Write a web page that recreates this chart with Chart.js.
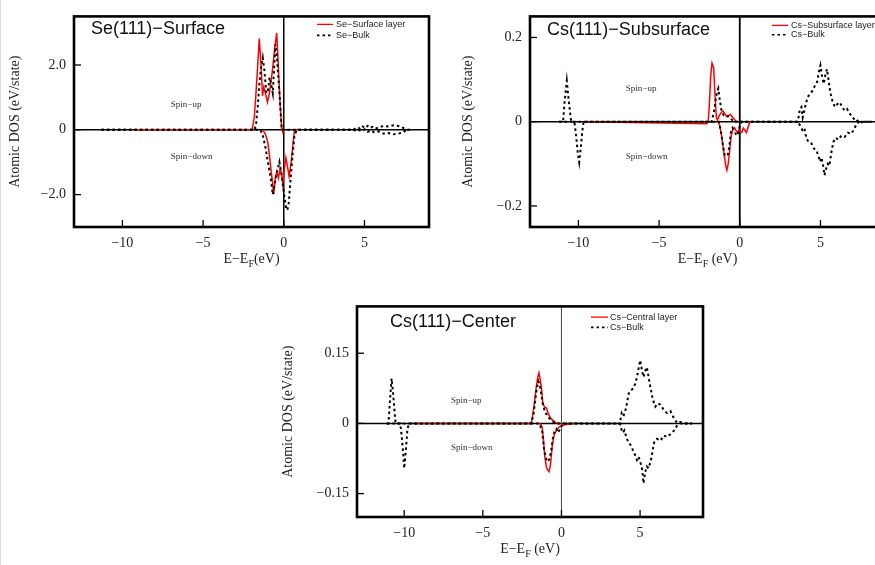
<!DOCTYPE html>
<html><head><meta charset="utf-8">
<script src="https://cdn.jsdelivr.net/npm/chart.js@4.4.1/dist/chart.umd.min.js"></script>
<style>
html,body{margin:0;padding:0;background:#fff;overflow:hidden;width:875px;height:565px;position:relative}
canvas{position:absolute}
#edge{position:absolute;left:0;top:0;width:1px;height:565px;background:#dcdcdc}
</style></head><body>
<div id="edge"></div>
<canvas id="c1" width="440" height="280" style="left:0;top:0"></canvas>
<canvas id="c2" width="460" height="280" style="left:440px;top:0"></canvas>
<canvas id="c3" width="440" height="275" style="left:270px;top:290px"></canvas>
<script>
// ---------- tick labels ----------
const xTickValues = [-10, -5, 0, 5];
const xTickLabels = ['\u221210', '\u22125', '0', '5'];
const p1YTickValues = [-2, 0, 2];
const p1YTickLabels = ['\u22122.0', '0', '2.0'];
const p2YTickValues = [-0.2, 0, 0.2];
const p2YTickLabels = ['\u22120.2', '0', '0.2'];
const p3YTickValues = [-0.15, 0, 0.15];
const p3YTickLabels = ['\u22120.15', '0', '0.15'];

// ---------- Panel 1: Se(111)-Surface  [E-EF (eV), DOS] ----------
const p1SurfUp = [[-9.2,0],[-1.96,0],[-1.82,0.42],[-1.71,1.23],[-1.61,2.03],[-1.52,2.82],[-1.4,1.93],[-1.32,1.05],[-1.24,1.32],[-1.14,1.13],[-1.01,0.85],[-0.89,1.13],[-0.78,1.53],[-0.68,1.93],[-0.58,2.44],[-0.44,2.99],[-0.37,2.34],[-0.31,1.63],[-0.22,0.72],[-0.12,0.02],[-0.06,-0.08],[0.0,0]];
const p1SurfDown = [[-1.3,0],[-1.14,-0.13],[-0.99,-0.38],[-0.89,-0.79],[-0.78,-1.29],[-0.68,-1.69],[-0.62,-1.99],[-0.52,-1.49],[-0.43,-1.29],[-0.33,-1.49],[-0.22,-1.19],[-0.14,-1.35],[-0.06,-1.69],[0.04,-1.19],[0.13,-0.86],[0.22,-1.1],[0.33,-1.44],[0.46,-0.99],[0.56,-0.48],[0.66,-0.03],[0.88,0.02]];
const p1BulkUp = [[-11.3,0],[-1.8,0],[-1.71,0.22],[-1.61,0.73],[-1.51,1.43],[-1.4,1.93],[-1.3,2.22],[-1.2,1.83],[-1.08,1.13],[-0.98,1.2],[-0.88,1.62],[-0.78,1.4],[-0.68,1.13],[-0.6,1.9],[-0.52,2.64],[-0.42,2.2],[-0.31,1.43],[-0.2,0.6],[-0.13,0],[4.3,0],[4.4,0.03],[4.6,0.08],[4.75,0.02],[4.9,0.1],[5.05,0.05],[5.2,0.12],[5.35,0.06],[5.5,0.09],[5.65,0.03],[5.9,0.08],[6.2,0.12],[6.5,0.1],[6.8,0.14],[7.1,0.12],[7.4,0.06],[7.6,0],[7.8,0]];
const p1BulkDown = [[-11.3,0],[-1.45,0],[-1.3,-0.18],[-1.15,-0.5],[-0.99,-0.98],[-0.88,-1.3],[-0.78,-1.59],[-0.68,-2.0],[-0.58,-1.7],[-0.47,-1.39],[-0.37,-1.2],[-0.27,-0.99],[-0.16,-1.3],[-0.06,-1.69],[0.05,-2.1],[0.15,-2.42],[0.22,-2.48],[0.31,-2.25],[0.46,-1.29],[0.56,-0.7],[0.66,-0.18],[0.8,0],[4.3,0],[4.4,-0.02],[4.6,0.02],[4.8,-0.05],[5.0,0.02],[5.2,-0.06],[5.4,-0.02],[5.6,-0.08],[5.9,-0.05],[6.2,-0.12],[6.5,-0.1],[6.8,-0.14],[7.1,-0.12],[7.4,-0.08],[7.6,0],[7.8,0]];

// ---------- Panel 2: Cs(111)-Subsurface ----------
const p2SurfUp = [[-9.5,0],[-2.05,-0.005],[-1.96,0],[-1.9,0.03],[-1.8,0.11],[-1.72,0.139],[-1.62,0.128],[-1.53,0.06],[-1.45,0.01],[-1.38,0.004],[-1.28,0.014],[-1.15,0.022],[-1.03,0.025],[-0.92,0.018],[-0.82,0.013],[-0.7,0.015],[-0.58,0.017],[-0.48,0.012],[-0.4,0.009],[-0.25,0.002],[-0.15,0]];
const p2SurfDown = [[-1.35,0],[-1.25,-0.008],[-1.13,-0.033],[-0.99,-0.072],[-0.87,-0.105],[-0.8,-0.115],[-0.72,-0.1],[-0.64,-0.075],[-0.54,-0.035],[-0.44,-0.02],[-0.33,-0.014],[-0.22,-0.022],[-0.14,-0.026],[-0.05,-0.02],[0.05,-0.024],[0.12,-0.026],[0.22,-0.015],[0.32,-0.02],[0.41,-0.026],[0.5,-0.015],[0.62,0],[0.7,0]];
const p2BulkUp = [[-11.2,0],[-10.95,0],[-10.85,0.05],[-10.72,0.097],[-10.6,0.05],[-10.45,0],[-1.75,0],[-1.62,0.02],[-1.5,0.05],[-1.4,0.072],[-1.33,0.079],[-1.25,0.055],[-1.15,0.03],[-1.0,0.015],[-0.85,0.012],[-0.72,0.013],[-0.55,0.008],[-0.4,0],[3.6,0],[3.72,0.03],[3.82,0.035],[3.9,0.01],[4.05,0.035],[4.2,0.058],[4.35,0.066],[4.5,0.073],[4.65,0.085],[4.8,0.095],[4.9,0.118],[5.0,0.134],[5.1,0.108],[5.2,0.09],[5.3,0.11],[5.4,0.125],[5.5,0.1],[5.6,0.072],[5.75,0.048],[5.9,0.035],[6.05,0.042],[6.2,0.046],[6.35,0.034],[6.5,0.026],[6.65,0.03],[6.8,0.02],[7.0,0.01],[7.2,0],[7.4,0.005],[7.6,-0.003],[7.8,0],[8.2,0]];
const p2BulkDown = [[-11.2,0],[-10.25,0],[-10.15,-0.03],[-10.05,-0.07],[-9.95,-0.096],[-9.85,-0.06],[-9.75,-0.02],[-9.68,0],[-1.3,0],[-1.18,-0.02],[-1.07,-0.049],[-0.95,-0.078],[-0.85,-0.082],[-0.75,-0.08],[-0.65,-0.06],[-0.55,-0.025],[-0.45,-0.015],[-0.3,-0.025],[-0.2,-0.033],[-0.1,-0.027],[0.0,-0.01],[0.1,0],[3.6,0],[3.72,-0.008],[3.88,-0.02],[4.0,-0.015],[4.13,-0.04],[4.3,-0.05],[4.45,-0.052],[4.6,-0.064],[4.75,-0.068],[4.88,-0.082],[4.98,-0.095],[5.06,-0.085],[5.15,-0.1],[5.25,-0.127],[5.35,-0.112],[5.45,-0.1],[5.55,-0.105],[5.68,-0.072],[5.8,-0.048],[5.95,-0.038],[6.1,-0.043],[6.3,-0.033],[6.5,-0.036],[6.7,-0.026],[6.9,-0.029],[7.05,-0.02],[7.25,-0.005],[7.4,0],[8.2,0]];

// ---------- Panel 3: Cs(111)-Center ----------
const p3SurfUp = [[-9.4,0],[-1.92,0],[-1.82,0.019],[-1.71,0.047],[-1.6,0.078],[-1.5,0.1],[-1.43,0.108],[-1.36,0.095],[-1.28,0.078],[-1.18,0.042],[-1.07,0.035],[-0.95,0.033],[-0.85,0.022],[-0.75,0.015],[-0.6,0.008],[-0.45,0.004],[-0.25,0],[-0.07,0]];
const p3SurfDown = [[-1.45,0],[-1.3,-0.002],[-1.22,-0.01],[-1.13,-0.04],[-1.07,-0.068],[-0.96,-0.093],[-0.87,-0.1],[-0.79,-0.103],[-0.7,-0.089],[-0.58,-0.047],[-0.47,-0.026],[-0.32,-0.014],[-0.15,-0.008],[0.0,-0.005],[0.2,-0.003],[0.41,-0.002],[0.75,0],[0.9,0]];
const p3BulkUp = [[-11.1,0],[-11.0,0],[-10.9,0.05],[-10.8,0.096],[-10.72,0.07],[-10.62,0.03],[-10.55,0],[-1.95,0],[-1.8,0.015],[-1.7,0.04],[-1.6,0.068],[-1.47,0.09],[-1.38,0.082],[-1.28,0.062],[-1.18,0.04],[-1.05,0.025],[-0.9,0.016],[-0.7,0.008],[-0.5,0.003],[-0.35,0],[3.73,0],[3.77,0.012],[3.83,0.022],[3.94,0.015],[4.11,0.033],[4.2,0.05],[4.28,0.064],[4.43,0.071],[4.58,0.075],[4.69,0.085],[4.8,0.099],[4.9,0.117],[5.01,0.135],[5.12,0.113],[5.22,0.099],[5.33,0.113],[5.43,0.12],[5.54,0.099],[5.65,0.078],[5.82,0.05],[5.97,0.036],[6.12,0.043],[6.29,0.04],[6.5,0.029],[6.71,0.022],[6.93,0.026],[7.14,0.012],[7.35,0.001],[7.56,0.003],[7.73,0],[8.3,0]];
const p3BulkDown = [[-11.1,0],[-10.25,0],[-10.15,-0.03],[-10.05,-0.07],[-10.0,-0.096],[-9.9,-0.06],[-9.8,-0.015],[-9.7,0],[-1.4,0],[-1.22,-0.017],[-1.13,-0.05],[-0.99,-0.075],[-0.86,-0.082],[-0.75,-0.075],[-0.64,-0.054],[-0.54,-0.03],[-0.43,-0.016],[-0.32,-0.012],[-0.21,-0.02],[-0.1,-0.013],[0.0,-0.006],[0.1,0],[3.73,0],[3.77,-0.009],[3.9,-0.02],[4.0,-0.015],[4.16,-0.033],[4.26,-0.04],[4.41,-0.047],[4.54,-0.057],[4.69,-0.068],[4.8,-0.078],[4.9,-0.071],[5.01,-0.082],[5.12,-0.096],[5.22,-0.128],[5.33,-0.103],[5.43,-0.092],[5.54,-0.096],[5.69,-0.078],[5.82,-0.054],[5.9,-0.04],[6.07,-0.033],[6.29,-0.037],[6.5,-0.026],[6.71,-0.029],[6.93,-0.023],[7.14,-0.016],[7.35,-0.005],[7.56,0],[8.3,0]];

// ---------- decoration plugin ----------
const SERIF = '"Liberation Serif", "Times New Roman", serif';
const SANS = '"Liberation Sans", Arial, sans-serif';
const deco = {
  id: 'deco',
  beforeDatasetsDraw(chart, args, o) {
    const {ctx, chartArea: a, scales: {x, y}} = chart;
    ctx.save();
    const y0 = y.getPixelForValue(0);
    ctx.strokeStyle = '#000'; ctx.lineWidth = o.zeroW;
    ctx.beginPath(); ctx.moveTo(a.left, y0); ctx.lineTo(a.right, y0); ctx.stroke();
    const x0 = x.getPixelForValue(0);
    ctx.strokeStyle = o.vColor; ctx.lineWidth = o.vW;
    ctx.beginPath(); ctx.moveTo(x0, a.top); ctx.lineTo(x0, a.bottom); ctx.stroke();
    ctx.restore();
  },
  afterDraw(chart, args, o) {
    const {ctx, chartArea: a, scales: {x, y}} = chart;
    ctx.save();
    // inward ticks
    ctx.strokeStyle = '#000'; ctx.lineWidth = 1.3;
    x.ticks.forEach(t => { const px = x.getPixelForValue(t.value);
      ctx.beginPath(); ctx.moveTo(px, a.bottom); ctx.lineTo(px, a.bottom - 7); ctx.stroke(); });
    y.ticks.forEach(t => { const py = y.getPixelForValue(t.value);
      ctx.beginPath(); ctx.moveTo(a.left, py); ctx.lineTo(a.left + 7, py); ctx.stroke(); });
    // frame
    ctx.lineWidth = 2.6; ctx.strokeStyle = '#000';
    ctx.strokeRect(a.left, a.top, a.right - a.left, a.bottom - a.top);
    // title
    ctx.fillStyle = '#111'; ctx.textBaseline = 'middle'; ctx.textAlign = 'left';
    ctx.font = o.titleSize + 'px ' + SANS;
    ctx.fillText(o.title, a.left + o.titleDx, a.top + o.titleDy);
    // legend
    ctx.font = '9px ' + SANS; ctx.fillStyle = '#222';
    o.leg.forEach((lab, i) => {
      const ly = a.top + o.legDy[i];
      ctx.save();
      ctx.beginPath();
      ctx.moveTo(a.right + o.legX[0], ly); ctx.lineTo(a.right + o.legX[1], ly);
      if (i === 0) { ctx.strokeStyle = '#ff0000'; ctx.lineWidth = 1.3; ctx.setLineDash([]); }
      else { ctx.strokeStyle = '#000'; ctx.lineWidth = 1.6; ctx.setLineDash([2.5, 3]); }
      ctx.stroke(); ctx.restore();
      ctx.fillText(lab, a.right + o.legX[2], ly);
    });
    // spin labels
    ctx.font = '9px ' + SERIF; ctx.fillStyle = '#333';
    ctx.fillText('Spin\u2212up', x.getPixelForValue(o.spin[0]), y.getPixelForValue(o.spin[1]));
    ctx.fillText('Spin\u2212down', x.getPixelForValue(o.spin[0]), y.getPixelForValue(o.spin[2]));
    // y title
    ctx.fillStyle = '#222'; ctx.font = '14px ' + SERIF; ctx.textAlign = 'center';
    ctx.save();
    ctx.translate(a.left + o.ylabDx, (a.top + a.bottom) / 2);
    ctx.rotate(-Math.PI / 2);
    ctx.fillText('Atomic DOS (eV/state)', 0, 0);
    ctx.restore();
    // x title with subscript
    ctx.textAlign = 'left'; ctx.textBaseline = 'alphabetic';
    const big = '14px ' + SERIF, small = '10px ' + SERIF;
    ctx.font = big; const w1 = ctx.measureText(o.xlab[0]).width;
    ctx.font = small; const w2 = ctx.measureText(o.xlab[1]).width;
    ctx.font = big; const w3 = ctx.measureText(o.xlab[2]).width;
    let sx = (a.left + a.right) / 2 - (w1 + w2 + w3) / 2;
    const by = a.bottom + 36;
    ctx.font = big; ctx.fillText(o.xlab[0], sx, by); sx += w1;
    ctx.font = small; ctx.fillText(o.xlab[1], sx, by + 3.5); sx += w2;
    ctx.font = big; ctx.fillText(o.xlab[2], sx, by);
    ctx.restore();
  }
};

function ds(points, bulk) {
  return {
    data: points.map(p => ({x: p[0], y: p[1]})),
    borderColor: bulk ? '#000' : '#ff0000',
    borderWidth: bulk ? 2 : 1.5,
    borderDash: bulk ? [2.5, 3] : [],
    pointRadius: 0, tension: 0, fill: false
  };
}

function makeChart(id, c) {
  new Chart(document.getElementById(id), {
    type: 'line',
    data: { datasets: [ds(c.bulkUp, true), ds(c.bulkDown, true), ds(c.surfUp, false), ds(c.surfDown, false)] },
    options: {
      responsive: false, animation: false, events: [],
      layout: { padding: { left: 0, top: c.top, right: c.right, bottom: 0 } },
      plugins: { legend: { display: false }, tooltip: { enabled: false }, deco: c.deco },
      scales: {
        x: {
          type: 'linear', min: -13, max: 9,
          afterBuildTicks: s => { s.ticks = xTickValues.map(v => ({value: v})); },
          afterFit: s => { s.height = c.xh; },
          grid: { display: false, drawTicks: false }, border: { display: false },
          ticks: { callback: v => xTickLabels[xTickValues.indexOf(v)], font: { family: SERIF, size: 14 }, color: '#222', padding: 8, maxRotation: 0, autoSkip: false }
        },
        y: {
          type: 'linear', min: c.ymin, max: c.ymax,
          afterBuildTicks: s => { s.ticks = c.yv.map(v => ({value: v})); },
          afterFit: s => { s.width = c.yw; },
          grid: { display: false, drawTicks: false }, border: { display: false },
          ticks: { callback: v => c.yl[c.yv.indexOf(v)], font: { family: SERIF, size: 14 }, color: '#222', padding: 8, autoSkip: false }
        }
      }
    },
    plugins: [deco]
  });
}

makeChart('c1', {
  surfUp: p1SurfUp, surfDown: p1SurfDown, bulkUp: p1BulkUp, bulkDown: p1BulkDown,
  ymin: -3, ymax: 3.5, yv: p1YTickValues, yl: p1YTickLabels,
  top: 13, right: 11, yw: 74, xh: 53,
  deco: { title: 'Se(111)\u2212Surface', titleSize: 18, titleDx: 17, titleDy: 13,
    leg: ['Se\u2212Surface layer', 'Se\u2212Bulk'], legX: [-112, -96, -93], legDy: [8, 19],
    spin: [-7, 0.79, -0.82], ylabDx: -59, xlab: ['E\u2212E', 'F', '(eV)'], zeroW: 1.5, vW: 1.5, vColor: '#000' }
});
makeChart('c2', {
  surfUp: p2SurfUp, surfDown: p2SurfDown, bulkUp: p2BulkUp, bulkDown: p2BulkDown,
  ymin: -0.25, ymax: 0.25, yv: p2YTickValues, yl: p2YTickLabels,
  top: 11, right: 15, yw: 90, xh: 53,
  deco: { title: 'Cs(111)\u2212Subsurface', titleSize: 18, titleDx: 17, titleDy: 14,
    leg: ['Cs\u2212Subsurface layer', 'Cs\u2212Bulk'], legX: [-113, -97, -94], legDy: [9, 18.3],
    spin: [-7.06, 0.079, -0.082], ylabDx: -62, xlab: ['E\u2212E', 'F', ' (eV)'], zeroW: 1.5, vW: 1.8, vColor: '#000' }
});
makeChart('c3', {
  surfUp: p3SurfUp, surfDown: p3SurfDown, bulkUp: p3BulkUp, bulkDown: p3BulkDown,
  ymin: -0.2, ymax: 0.25, yv: p3YTickValues, yl: p3YTickLabels,
  top: 10, right: 7, yw: 87, xh: 48,
  deco: { title: 'Cs(111)\u2212Center', titleSize: 18, titleDx: 33, titleDy: 15.7,
    leg: ['Cs\u2212Central layer', 'Cs\u2212Bulk'], legX: [-112, -95, -93], legDy: [10.7, 21],
    spin: [-7.03, 0.048, -0.051], ylabDx: -69, xlab: ['E\u2212E', 'F', ' (eV)'], zeroW: 1.5, vW: 1, vColor: '#444' }
});
</script>
</body></html>
